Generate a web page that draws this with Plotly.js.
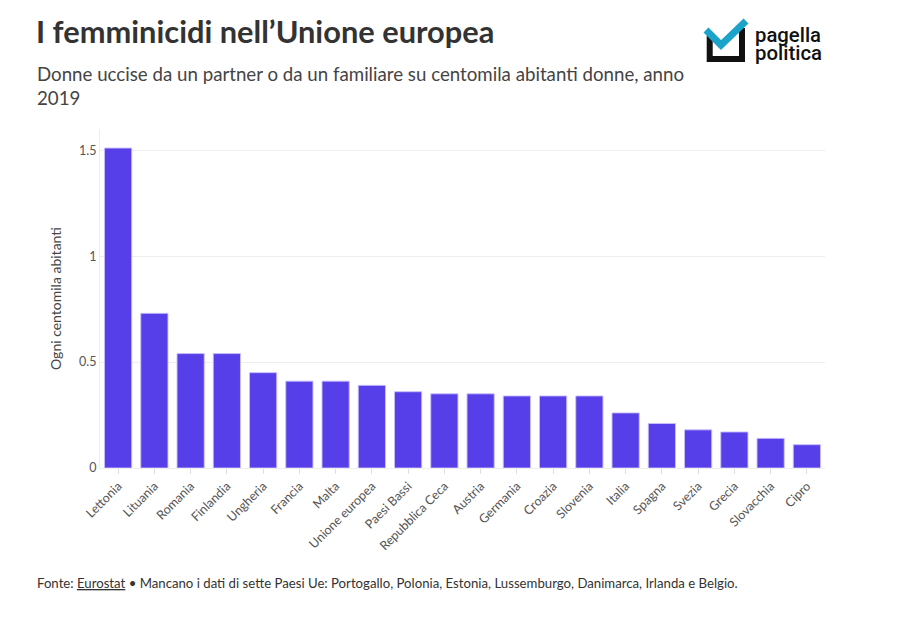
<!DOCTYPE html>
<html>
<head>
<meta charset="utf-8">
<script src="https://cdn.plot.ly/plotly-3.0.1.min.js"></script>
<style>
  html, body { margin:0; padding:0; background:#fff; }
  #wrap { position:relative; width:916px; height:617px; }
  #chart { width:916px; height:617px; }
  #logo { position:absolute; left:700px; top:14px; }
</style>
</head>
<body>
<div id="wrap">
  <div id="chart"></div>
  <svg id="logo" width="130" height="52" viewBox="0 0 130 52">
    <path d="M9.7 22 L9.7 45 L42 45 L42 14" fill="none" stroke="#111" stroke-width="6" stroke-linejoin="miter"/>
    <path d="M6 16 L21 31 L46 7" fill="none" stroke="#1ba3c9" stroke-width="7"/>
    <text x="55" y="28" textLength="66" lengthAdjust="spacingAndGlyphs" font-family="Roboto, 'Liberation Sans', sans-serif" font-size="20" font-weight="500" fill="#111">pagella</text>
    <text x="55" y="46" textLength="67" lengthAdjust="spacingAndGlyphs" font-family="Roboto, 'Liberation Sans', sans-serif" font-size="20" font-weight="500" fill="#111">politica</text>
  </svg>
</div>
<script>
const countries = ["Lettonia","Lituania","Romania","Finlandia","Ungheria","Francia","Malta","Unione europea","Paesi Bassi","Repubblica Ceca","Austria","Germania","Croazia","Slovenia","Italia","Spagna","Svezia","Grecia","Slovacchia","Cipro"];
const values = [1.51,0.73,0.54,0.54,0.45,0.41,0.41,0.39,0.36,0.35,0.35,0.34,0.34,0.34,0.26,0.21,0.18,0.17,0.14,0.11];
const yTickVals = [0,0.5,1,1.5];
const yTickText = ["0","0.5","1","1.5"];

const font = "'Source Sans Pro', Lato, 'Noto Sans', sans-serif";

Plotly.newPlot("chart", [{
  type: "bar",
  x: countries,
  y: values,
  marker: { color: "#563ee8", line: { color: "rgba(200,190,250,0.9)", width: 1 } },
  hoverinfo: "x+y"
}], {
  width: 916, height: 617,
  paper_bgcolor: "#fff", plot_bgcolor: "#fff",
  margin: { l: 100, r: 91, t: 129, b: 149 },
  bargap: 0.25,
  font: { family: font, color: "#444", size: 12.5 },
  title: {
    text: "<b>I femminicidi nell’Unione europea</b>",
    x: 36/916, xanchor: "left", xref: "container",
    y: 1 - 32/617, yanchor: "middle", yref: "container",
    font: { family: font, size: 30.8, color: "#333" }
  },
  xaxis: {
    type: "category",
    tickangle: -45,
    ticks: "outside", ticklen: 5, tickcolor: "#ddd",
    tickfont: { size: 12.5, color: "#555" },
    showgrid: false,
    showline: true, linecolor: "#eee",
    automargin: false
  },
  yaxis: {
    range: [0, 1.6],
    tickvals: yTickVals, ticktext: yTickText,
    tickfont: { size: 12.5, color: "#555" },
    gridcolor: "#eee",
    zeroline: true, zerolinecolor: "#eee",
    showline: true, linecolor: "#eee",
    ticks: "", ticklen: 0,
    title: { text: "Ogni centomila abitanti", font: { size: 14, color: "#444" }, standoff: 14 },
    automargin: false
  },
  annotations: [
    {
      xref: "paper", yref: "paper", x: -65/725, y: 1 + (129-86)/339,
      xanchor: "left", yanchor: "middle", showarrow: false, align: "left",
      text: "Donne uccise da un partner o da un familiare su centomila abitanti donne, anno<br>2019",
      font: { family: font, size: 18.7, color: "#444" }
    },
    {
      xref: "paper", yref: "paper", x: -65/725, y: -(583-468)/339,
      xanchor: "left", yanchor: "middle", showarrow: false, align: "left",
      text: "Fonte: <span style='text-decoration:underline'>Eurostat</span> • Mancano i dati di sette Paesi Ue: Portogallo, Polonia, Estonia, Lussemburgo, Danimarca, Irlanda e Belgio.",
      font: { family: font, size: 13.2, color: "#333" }
    }
  ],
  showlegend: false
}, { displayModeBar: false, staticPlot: false });
</script>
</body>
</html>
